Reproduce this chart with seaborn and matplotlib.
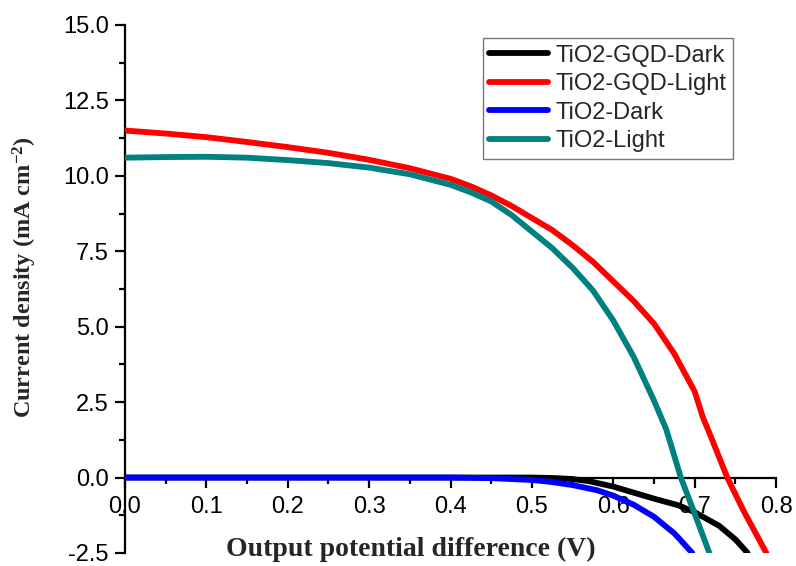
import numpy as np
import pandas as pd
import seaborn as sns
import matplotlib.pyplot as plt
from matplotlib.ticker import MultipleLocator

# values
v_gqd_dark = [0.0, 0.1, 0.2, 0.3, 0.4, 0.45, 0.5, 0.53, 0.55, 0.57, 0.6, 0.625, 0.65, 0.68, 0.7, 0.73, 0.75, 0.765]
j_gqd_dark = [0.0, 0.0, 0.0, 0.0, 0.0, 0.0, 0.0, -0.02, -0.05, -0.12, -0.3, -0.5, -0.7, -0.92, -1.15, -1.6, -2.05, -2.5]

v_gqd_light = [0.0, 0.05, 0.1, 0.15, 0.2, 0.25, 0.3, 0.35, 0.4, 0.425, 0.45, 0.475, 0.5, 0.525, 0.55,
               0.575, 0.6, 0.625, 0.65, 0.675, 0.7, 0.71, 0.72, 0.74, 0.76, 0.788]
j_gqd_light = [11.5, 11.4, 11.28, 11.12, 10.95, 10.76, 10.53, 10.25, 9.9, 9.65, 9.35, 9.0, 8.6, 8.2, 7.7,
               7.15, 6.5, 5.85, 5.1, 4.1, 2.85, 2.0, 1.35, 0.0, -1.1, -2.5]

v_tio2_dark = [0.0, 0.1, 0.2, 0.3, 0.4, 0.45, 0.5, 0.525, 0.55, 0.58, 0.6, 0.625, 0.65, 0.675, 0.697]
j_tio2_dark = [0.0, 0.0, 0.0, 0.0, 0.0, -0.02, -0.08, -0.15, -0.25, -0.42, -0.6, -0.9, -1.3, -1.85, -2.5]

v_tio2_light = [0.0, 0.05, 0.1, 0.15, 0.2, 0.25, 0.3, 0.35, 0.4, 0.425, 0.45, 0.475, 0.5, 0.525, 0.55,
                0.575, 0.6, 0.625, 0.65, 0.665, 0.683, 0.7, 0.718]
j_tio2_light = [10.6, 10.62, 10.63, 10.6, 10.52, 10.42, 10.27, 10.05, 9.7, 9.45, 9.15, 8.7, 8.15, 7.6, 6.95,
                6.2, 5.2, 4.0, 2.55, 1.6, 0.0, -1.2, -2.5]

labels = ['TiO2-GQD-Dark', 'TiO2-GQD-Light', 'TiO2-Dark', 'TiO2-Light']
colors = ['black', '#ff0000', '#0000ff', '#008080']

frames = []
for name, v, j in zip(labels,
                      [v_gqd_dark, v_gqd_light, v_tio2_dark, v_tio2_light],
                      [j_gqd_dark, j_gqd_light, j_tio2_dark, j_tio2_light]):
    frames.append(pd.DataFrame({'V': v, 'J': j, 'sample': name}))
df = pd.concat(frames, ignore_index=True)

sns.set_style('ticks')
plt.rcParams['font.family'] = ['Liberation Sans', 'DejaVu Sans']
plt.rcParams['mathtext.fontset'] = 'custom'
plt.rcParams['mathtext.rm'] = 'Liberation Serif:bold'
plt.rcParams['mathtext.it'] = 'Liberation Serif:bold'
plt.rcParams['mathtext.bf'] = 'Liberation Serif:bold'

fig = plt.figure(figsize=(7.96, 5.66), dpi=100)
ax = fig.add_axes([0.157, 0.023, 0.818, 0.933])

sns.lineplot(data=df, x='V', y='J', hue='sample', hue_order=labels,
             palette=dict(zip(labels, colors)), sort=False, estimator=None,
             linewidth=4.2, ax=ax)

ax.set_xlim(0, 0.8)
ax.set_ylim(-2.5, 15)
ax.xaxis.set_major_locator(MultipleLocator(0.1))
ax.xaxis.set_minor_locator(MultipleLocator(0.05))
ax.yaxis.set_major_locator(MultipleLocator(2.5))
ax.yaxis.set_minor_locator(MultipleLocator(1.25))
ax.xaxis.set_major_formatter(plt.FormatStrFormatter('%.1f'))
ax.yaxis.set_major_formatter(plt.FormatStrFormatter('%.1f'))

ax.spines['bottom'].set_position(('data', 0))
ax.spines['top'].set_visible(False)
ax.spines['right'].set_visible(False)
for s in ['left', 'bottom']:
    ax.spines[s].set_linewidth(1.6)
    ax.spines[s].set_color('black')
    ax.spines[s].set_zorder(1)
ax.tick_params(which='major', direction='out', length=7.5, width=1.6, labelsize=17, colors='black')
ax.tick_params(which='minor', direction='out', length=4.5, width=1.6, colors='black')
ax.tick_params(axis='x', which='major', pad=6)
ax.tick_params(axis='y', which='major', pad=4)

ax.set_xlabel('Output potential difference (V)', family='Liberation Serif',
              fontweight='bold', fontsize=20, va='center', ha='center')
ax.xaxis.set_label_coords(0.439, 0.006)
ax.set_ylabel('Current density (mA cm$^{-2}$)', family='Liberation Serif',
              fontweight='bold', fontsize=17.5, va='center', ha='center')
ax.yaxis.set_label_coords(-0.1536, 0.523)

leg = ax.legend(loc='upper right', bbox_to_anchor=(0.921, 0.933), bbox_transform=fig.transFigure,
                fontsize=17, frameon=True, fancybox=False, edgecolor='#555555',
                labelspacing=0.28, handlelength=2.5, handletextpad=0.3, borderpad=0.28,
                borderaxespad=0)
leg.get_frame().set_linewidth(1.0)
for line in leg.get_lines():
    line.set_linewidth(4.2)
    line.set_solid_capstyle('round')

fig.savefig('out.png', dpi=100)
